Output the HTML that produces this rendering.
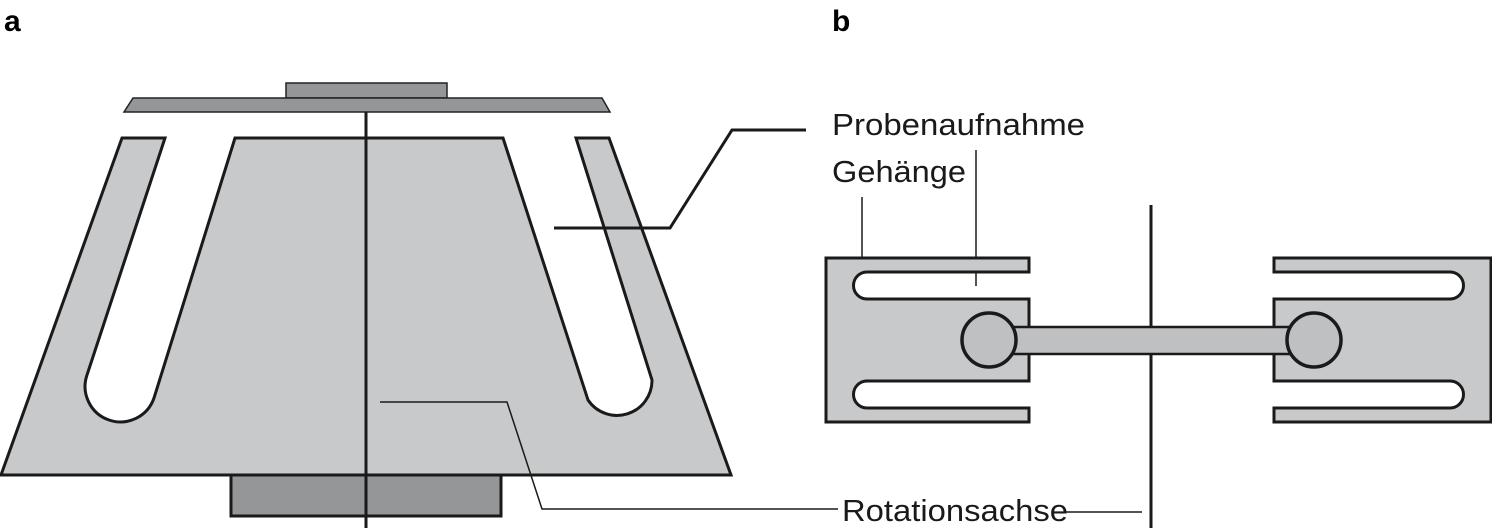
<!DOCTYPE html>
<html><head><meta charset="utf-8"><style>html,body{margin:0;padding:0;background:#fff}svg{display:block}</style></head>
<body>
<svg width="1492" height="532" viewBox="0 0 1492 532" xmlns="http://www.w3.org/2000/svg" font-family="Liberation Sans, sans-serif">
<rect width="1492" height="532" fill="#fff"/>
<text x="4" y="31" font-size="30" font-weight="bold">a</text>
<text x="832" y="31" font-size="30" font-weight="bold">b</text>
<!-- panel a -->
<rect x="286" y="83" width="161" height="15" fill="#959698" stroke="#222" stroke-width="1.5"/>
<polygon points="133,98 602,98 610,112 124,112" fill="#959698" stroke="#222" stroke-width="1.5"/>
<rect x="231" y="475" width="270" height="41" fill="#959698" stroke="#1a1a1a" stroke-width="3"/>
<path d="M122,138 L1,475 L731,475 L609,138 L576,138 L652,380 A35,35 0 0 1 588,400 L503,138 L235,138 L154,398 A35,35 0 0 1 87,375 L165,138 Z" fill="#c8c9cb" stroke="#1a1a1a" stroke-width="3" stroke-linejoin="miter"/>
<line x1="366" y1="112" x2="366" y2="528" stroke="#1a1a1a" stroke-width="3"/>
<polyline points="554,228 670,228 732,130 806,130" fill="none" stroke="#1a1a1a" stroke-width="3"/>
<polyline points="380,402 507,402 542,509 838,509" fill="none" stroke="#1a1a1a" stroke-width="1.5"/>
<!-- panel b -->
<line x1="862" y1="197" x2="862" y2="258" stroke="#1a1a1a" stroke-width="1.5"/>
<line x1="976" y1="150" x2="976" y2="286" stroke="#1a1a1a" stroke-width="1.5"/>
<path d="M826,258 L1029,258 L1029,272 L867,272 A13.5,13.5 0 0 0 867,299 L1029,299 L1029,381 L867,381 A13.5,13.5 0 0 0 867,408 L1029,408 L1029,422 L826,422 Z" fill="#c8c9cb" stroke="#1a1a1a" stroke-width="3"/>
<path d="M1491,258 L1274,258 L1274,272 L1450,272 A13.5,13.5 0 0 1 1450,299 L1274,299 L1274,381 L1450,381 A13.5,13.5 0 0 1 1450,408 L1274,408 L1274,422 L1491,422 Z" fill="#c8c9cb" stroke="#1a1a1a" stroke-width="3"/>
<line x1="1151" y1="205" x2="1151" y2="528" stroke="#1a1a1a" stroke-width="3"/>
<rect x="1012" y="327" width="280" height="27" fill="#bfc0c2" stroke="#1a1a1a" stroke-width="2.5"/>
<circle cx="989" cy="340" r="27" fill="#bfc0c2" stroke="#1a1a1a" stroke-width="3.5"/>
<circle cx="1314" cy="340" r="27" fill="#bfc0c2" stroke="#1a1a1a" stroke-width="3.5"/>
<line x1="1065" y1="512" x2="1142" y2="512" stroke="#1a1a1a" stroke-width="1.5"/>
<text x="832" y="135" font-size="31" textLength="253" lengthAdjust="spacingAndGlyphs" fill="#1a1a1a">Probenaufnahme</text>
<text x="832" y="182" font-size="31" textLength="134" lengthAdjust="spacingAndGlyphs" fill="#1a1a1a">Gehänge</text>
<text x="842" y="521" font-size="31" textLength="226" lengthAdjust="spacingAndGlyphs" fill="#1a1a1a">Rotationsachse</text>
</svg>
</body></html>
